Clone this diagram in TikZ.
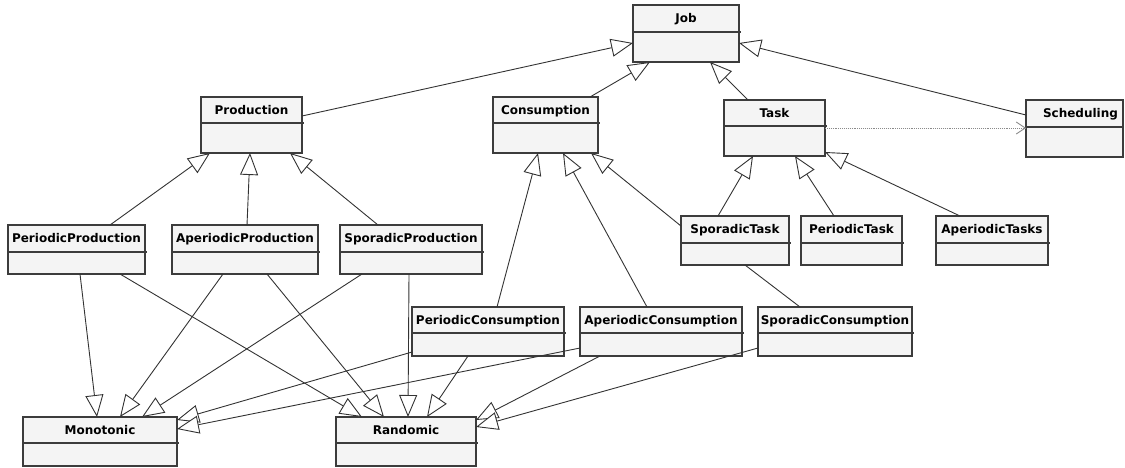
\documentclass[tikz,border=0pt]{standalone}
\usepackage{fontspec}
\setmainfont{DejaVu Sans}
\usetikzlibrary{arrows.meta}
\definecolor{edgeclr}{HTML}{333333}
\definecolor{boxclr}{HTML}{3C3C3C}
\definecolor{boxfill}{HTML}{F4F4F4}
\definecolor{depclr}{HTML}{8A8A8A}
\tikzset{
  cls/.style={draw=boxclr, fill=boxfill, line width=1.2pt, inner sep=0pt, outer sep=0pt, anchor=north west},
  sepline/.style={draw=boxclr, line width=1.2pt},
  lbl/.style={font=\fontsize{12}{13}\selectfont\bfseries, inner sep=0pt, text height=8.7pt, text depth=0pt, anchor=center},
  gen/.style={draw=edgeclr, line width=0.9pt, -{Triangle[length=22pt, width=18pt, fill=white]}},
  assoc/.style={draw=edgeclr, line width=0.9pt},
  dep/.style={draw=depclr, line width=0.9pt, densely dotted, -{Straight Barb[length=9pt, width=12pt, line width=0.9pt]}}
}
\newcommand\umlcls[7]{%
  \node[cls, minimum width=#4pt, minimum height=#5pt] (#1) at (#2,#3) {};
  \draw[sepline] ([yshift=-#6pt]#1.north west) -- ([xshift=2pt,yshift=-#6pt]#1.north east);
  \node[lbl] at ([yshift=-#6pt/2]#1.north) {#7};
}
\begin{document}
\begin{tikzpicture}[x=1pt, y=-1pt]
\useasboundingbox (0,0) rectangle (1125,467);
% classes: name, x1, y1, width, height, header height, label
\umlcls{Job}{633}{5}{106}{57}{27}{Job}
\umlcls{Production}{201}{97}{101}{56}{26}{Production}
\umlcls{Consumption}{493}{97}{105}{56}{26}{Consumption}
\umlcls{Task}{724}{100}{101}{56}{26}{Task}
\node[cls, minimum width=97pt, minimum height=57pt] (Scheduling) at (1026,100) {};
\draw[sepline] ([yshift=-27pt]Scheduling.north west) -- ([yshift=-27pt]Scheduling.north east);
\node[lbl] at ([xshift=6pt,yshift=-13.5pt]Scheduling.north) {Scheduling};
\umlcls{PeriodicProduction}{8}{225}{137}{49}{27}{PeriodicProduction}
\umlcls{AperiodicProduction}{172}{225}{146}{49}{27}{AperiodicProduction}
\umlcls{SporadicProduction}{340}{225}{142}{49}{27}{SporadicProduction}
\umlcls{SporadicTask}{681}{216}{108}{49}{27}{SporadicTask}
\umlcls{PeriodicTask}{801}{216}{101}{49}{27}{PeriodicTask}
\umlcls{AperiodicTasks}{936}{216}{112}{49}{27}{AperiodicTasks}
\umlcls{PeriodicConsumption}{412}{307}{152}{49}{26}{PeriodicConsumption}
\umlcls{AperiodicConsumption}{580}{307}{162}{49}{26}{AperiodicConsumption}
\umlcls{SporadicConsumption}{758}{307}{154}{49}{26}{SporadicConsumption}
\umlcls{Monotonic}{23}{417}{154}{49}{26}{Monotonic}
\umlcls{Randomic}{336}{417}{140}{49}{26}{Randomic}
% generalizations to Job
\draw[gen] ([yshift=-19pt]Production.north east) -- ([yshift=-38pt]Job.north west);
\draw[gen] ([xshift=97pt]Consumption.north west) -- ([xshift=17pt]Job.south west);
\draw[gen] ([xshift=24pt]Task.north west) -- ([xshift=77pt]Job.south west);
\draw[gen] ([yshift=-15pt]Scheduling.north west) -- ([yshift=-38pt]Job.north east);
% to Production
\draw[gen] ([xshift=102pt]PeriodicProduction.north west) -- ([xshift=9pt]Production.south west);
\draw[gen] ([xshift=75pt]AperiodicProduction.north west) -- ([xshift=49pt]Production.south west);
\draw[gen] ([xshift=38pt]SporadicProduction.north west) -- ([xshift=89pt]Production.south west);
% to Consumption
\draw[gen] ([xshift=85pt]PeriodicConsumption.north west) -- ([xshift=45pt]Consumption.south west);
\draw[gen] ([xshift=67pt]AperiodicConsumption.north west) -- ([xshift=70pt]Consumption.south west);
\draw[gen] ([yshift=-10pt]SporadicTask.north west) -- ([xshift=98pt]Consumption.south west);
% to Task
\draw[gen] ([xshift=37pt]SporadicTask.north west) -- ([xshift=29pt]Task.south west);
\draw[gen] ([xshift=33pt]PeriodicTask.north west) -- ([xshift=71pt]Task.south west);
\draw[gen] ([xshift=24pt]AperiodicTasks.north west) -- ([yshift=-52pt]Task.north east);
% dependency
\draw[dep] ([yshift=-28pt]Task.north east) -- ([yshift=-28pt]Scheduling.north west);
% association
\draw[assoc] ([xshift=64pt]SporadicTask.south west) -- ([xshift=42pt]SporadicConsumption.north west);
% to Monotonic / Randomic
\draw[gen] ([xshift=72pt]PeriodicProduction.south west) -- ([xshift=74pt]Monotonic.north west);
\draw[gen] ([xshift=112pt]PeriodicProduction.south west) -- ([xshift=26pt]Randomic.north west);
\draw[gen] ([xshift=51pt]AperiodicProduction.south west) -- ([xshift=97pt]Monotonic.north west);
\draw[gen] ([xshift=95pt]AperiodicProduction.south west) -- ([xshift=48pt]Randomic.north west);
\draw[gen] ([xshift=22pt]SporadicProduction.south west) -- ([xshift=119pt]Monotonic.north west);
\draw[gen] ([xshift=69pt]SporadicProduction.south west) -- ([xshift=72pt]Randomic.north west);
\draw[gen] ([yshift=-45pt]PeriodicConsumption.north west) -- ([yshift=-3pt]Monotonic.north east);
\draw[gen] ([yshift=-41pt]AperiodicConsumption.north west) -- ([yshift=-12pt]Monotonic.north east);
\draw[gen] ([xshift=56pt]PeriodicConsumption.south west) -- ([xshift=91pt]Randomic.north west);
\draw[gen] ([xshift=20pt]AperiodicConsumption.south west) -- ([yshift=-3pt]Randomic.north east);
\draw[gen] ([yshift=-41pt]SporadicConsumption.north west) -- ([yshift=-10pt]Randomic.north east);
\end{tikzpicture}
\end{document}
